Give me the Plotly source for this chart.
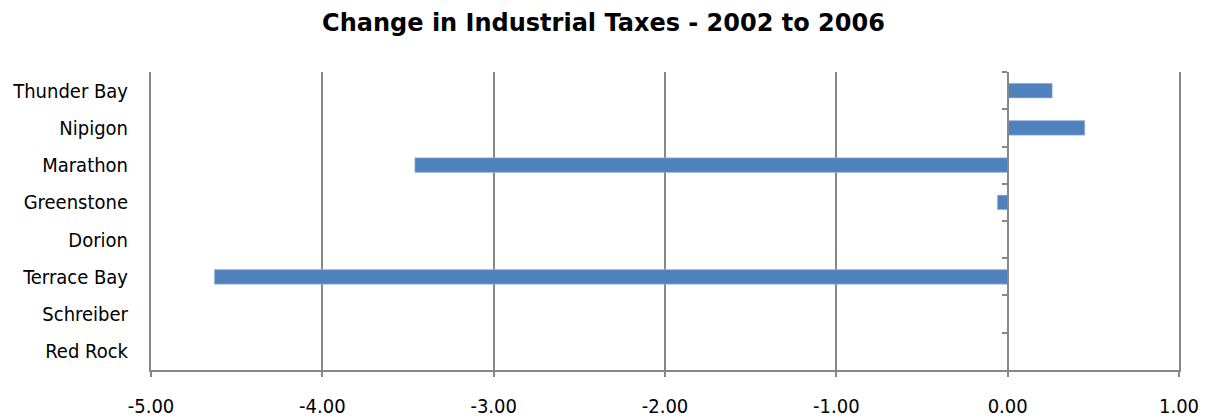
import plotly.graph_objects as go

categories = ["Thunder Bay", "Nipigon", "Marathon", "Greenstone", "Dorion",
              "Terrace Bay", "Schreiber", "Red Rock"]
values = [0.26, 0.45, -3.46, -0.06, 0.0, -4.63, 0.0, 0.0]
x_ticks = [-5, -4, -3, -2, -1, 0, 1]
x_tick_labels = ["-5.00", "-4.00", "-3.00", "-2.00", "-1.00", "0.00", "1.00"]

GRID = "#878787"
BLUE = "#4F81BD"
FONT = "DejaVu Sans Condensed, DejaVu Sans"
TITLE_FONT = "DejaVu Sans"

fig = go.Figure()
fig.add_trace(go.Bar(
    y=categories, x=values, orientation="h",
    marker=dict(color=BLUE, line=dict(color="#A9C0E0", width=0.6)),
    hoverinfo="x+y",
))
# invisible helper trace for the category axis drawn at x = 0
fig.add_trace(go.Scatter(
    y=categories, x=[0] * len(categories), mode="markers",
    marker=dict(opacity=0), yaxis="y2", hoverinfo="skip", showlegend=False,
))

fig.update_layout(
    width=1207, height=418,
    margin=dict(l=151, r=28, t=72, b=48, autoexpand=False),
    paper_bgcolor="white", plot_bgcolor="white",
    showlegend=False,
    bargap=0.61,
    title=dict(text="<b>Change in Industrial Taxes - 2002 to 2006</b>",
               x=0.5, xanchor="center", y=0.947, yanchor="middle",
               font=dict(family=TITLE_FONT, size=24, color="black")),
    font=dict(family=FONT, size=20, color="black"),
    xaxis=dict(
        range=[-5, 1], tickvals=x_ticks, ticktext=x_tick_labels,
        showgrid=True, gridcolor=GRID, gridwidth=2,
        zeroline=True, zerolinecolor=GRID, zerolinewidth=2,
        showline=True, linecolor=GRID, linewidth=2,
        ticks="outside", ticklen=5, tickwidth=2, tickcolor=GRID,
        ticklabelstandoff=12, automargin=False,
        tickfont=dict(family=FONT, size=20, color="black"),
        fixedrange=True,
    ),
    yaxis=dict(
        type="category", categoryarray=categories, autorange="reversed",
        showgrid=False, showline=True, mirror=True, linecolor=GRID, linewidth=2,
        ticks="", ticklabelstandoff=17, automargin=False,
        tickfont=dict(family=FONT, size=20, color="black"),
        fixedrange=True,
    ),
    yaxis2=dict(
        type="category", categoryarray=categories, autorange="reversed",
        overlaying="y", anchor="free", position=5 / 6, side="left",
        showgrid=False, showline=True, linecolor=GRID, linewidth=2,
        tickson="boundaries", ticks="outside", ticklen=5, tickwidth=2, tickcolor=GRID,
        showticklabels=False, fixedrange=True, automargin=False,
    ),
)

fig.write_html("out.html")
